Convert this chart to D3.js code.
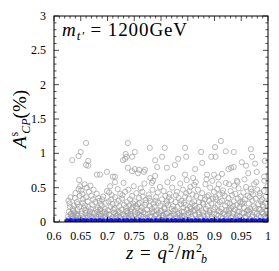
<!DOCTYPE html>
<html>
<head>
<meta charset="utf-8">
<script src="https://cdn.jsdelivr.net/npm/d3@7"></script>
<style>
  body { margin: 0; background: #fff; }
  text { font-family: "Liberation Serif", "DejaVu Serif", serif; }
</style>
</head>
<body>
<div id="chart"></div>
<script>
// axis ticks
const xTicks = [0.6, 0.65, 0.7, 0.75, 0.8, 0.85, 0.9, 0.95, 1];
const xTickLabels = ["0.6", "0.65", "0.7", "0.75", "0.8", "0.85", "0.9", "0.95", "1"];
const yTicks = [0, 0.5, 1, 1.5, 2, 2.5, 3];
const yTickLabels = ["0", "0.5", "1", "1.5", "2", "2.5", "3"];

// sparse upper scan points [z, A_CP]
const upperPts = [
  [0.660,1.15],[0.650,1.02],[0.646,0.96],[0.634,0.90],[0.664,0.89],[0.660,0.83],[0.664,0.82],[0.680,0.69],[0.686,0.69],[0.699,0.73],[0.647,0.61],
  [0.738,1.15],[0.779,1.08],[0.751,1.02],[0.746,0.95],[0.733,0.92],[0.789,0.90],[0.802,0.95],[0.738,0.79],[0.751,0.77],[0.759,0.76],[0.768,0.73],[0.793,0.80],[0.789,0.67],[0.714,0.66],
  [0.710,0.66],[0.714,0.58],[0.746,0.74],[0.757,0.71],[0.770,0.76],[0.780,0.64],[0.783,0.57],[0.734,0.99],[0.736,0.95],[0.729,0.90],
  [0.807,1.08],[0.845,1.08],[0.875,1.02],[0.901,1.09],[0.847,0.95],[0.832,0.92],[0.894,0.95],[0.826,0.83],[0.811,0.79],[0.877,0.86],[0.864,0.77],[0.845,0.69],[0.886,0.69],[0.899,0.69],[0.862,0.54],
  [0.912,1.18],[0.968,1.06],[0.936,1.02],[0.921,1.03],[0.902,0.95],[0.970,0.95],[0.994,0.89],[0.951,0.87],[0.959,0.82],[0.976,0.85],[0.931,0.79],[0.936,0.80],[0.926,0.77],[0.914,0.70],[0.963,0.71],[0.979,0.73],[0.993,0.66],[0.908,0.55],[0.927,0.55],[0.942,0.60],[0.968,0.48]
];

// dense lower scan points [z, A_CP]
const lowerPts = [
  [0.626,0.08],[0.628,0.15],[0.630,0.22],[0.627,0.31],[0.632,0.12],[0.634,0.05],[0.635,0.19],[0.629,0.27],[0.636,0.10],[0.631,0.36],[0.633,0.07],[0.637,0.24],
  [0.638,0.14],[0.640,0.42],[0.641,0.06],[0.643,0.29],[0.644,0.18],[0.646,0.48],[0.639,0.35],[0.645,0.09],[0.647,0.22],[0.648,0.38],[0.642,0.12],[0.649,0.52],[0.644,0.26],
  [0.651,0.46],[0.652,0.16],[0.654,0.33],[0.655,0.07],[0.657,0.55],[0.658,0.24],[0.653,0.41],[0.659,0.13],[0.660,0.36],[0.656,0.20],[0.661,0.50],[0.662,0.09],[0.654,0.28],
  [0.663,0.30],[0.665,0.44],[0.666,0.11],[0.668,0.53],[0.669,0.19],[0.670,0.38],[0.671,0.06],[0.672,0.25],[0.674,0.47],[0.667,0.15],[0.673,0.33],[0.664,0.22],
  [0.676,0.13],[0.677,0.29],[0.679,0.08],[0.680,0.41],[0.682,0.21],[0.683,0.35],[0.684,0.11],[0.686,0.18],[0.687,0.26],[0.678,0.05],[0.681,0.15],[0.685,0.31],
  [0.688,0.09],[0.689,0.23],[0.691,0.14],[0.692,0.37],[0.694,0.06],[0.695,0.19],[0.697,0.28],[0.698,0.12],[0.699,0.45],[0.690,0.33],[0.696,0.08],
  [0.701,0.17],[0.702,0.30],[0.704,0.10],[0.705,0.52],[0.706,0.22],[0.708,0.39],[0.709,0.07],[0.710,0.26],[0.712,0.14],[0.703,0.43],[0.707,0.33],
  [0.713,0.20],[0.714,0.36],[0.716,0.09],[0.717,0.27],[0.719,0.48],[0.720,0.15],[0.721,0.31],[0.723,0.06],[0.724,0.41],[0.715,0.12],[0.722,0.23],
  [0.726,0.18],[0.727,0.34],[0.729,0.11],[0.730,0.57],[0.731,0.25],[0.733,0.44],[0.734,0.08],[0.736,0.29],[0.737,0.16],[0.728,0.39],[0.735,0.21],[0.732,0.05],
  [0.738,0.13],[0.739,0.47],[0.741,0.24],[0.742,0.33],[0.744,0.09],[0.745,0.19],[0.746,0.38],[0.748,0.27],[0.749,0.52],[0.740,0.06],[0.743,0.15],[0.747,0.22],
  [0.751,0.30],[0.752,0.11],[0.754,0.42],[0.755,0.20],[0.757,0.26],[0.758,0.07],[0.759,0.35],[0.761,0.16],[0.762,0.49],[0.753,0.23],[0.756,0.13],[0.760,0.28],
  [0.763,0.09],[0.764,0.21],[0.766,0.37],[0.767,0.14],[0.769,0.56],[0.770,0.25],[0.771,0.32],[0.773,0.06],[0.774,0.18],[0.765,0.44],[0.772,0.28],
  [0.776,0.12],[0.777,0.40],[0.779,0.23],[0.780,0.31],[0.782,0.08],[0.783,0.19],[0.784,0.47],[0.786,0.27],[0.787,0.15],[0.778,0.35],[0.785,0.60],
  [0.788,0.22],[0.789,0.10],[0.791,0.36],[0.792,0.17],[0.794,0.43],[0.795,0.28],[0.797,0.07],[0.798,0.51],[0.799,0.24],[0.790,0.31],[0.796,0.13],
  [0.801,0.16],[0.802,0.33],[0.804,0.09],[0.805,0.45],[0.806,0.21],[0.808,0.38],[0.809,0.12],[0.810,0.27],[0.812,0.58],[0.803,0.06],[0.807,0.19],[0.811,0.30],
  [0.813,0.25],[0.814,0.14],[0.816,0.41],[0.817,0.08],[0.819,0.32],[0.820,0.19],[0.821,0.50],[0.823,0.23],[0.824,0.11],[0.815,0.36],[0.822,0.64],
  [0.826,0.18],[0.827,0.29],[0.829,0.07],[0.830,0.44],[0.831,0.22],[0.833,0.35],[0.834,0.13],[0.836,0.56],[0.837,0.26],[0.828,0.39],[0.835,0.10],
  [0.838,0.31],[0.839,0.15],[0.841,0.47],[0.842,0.21],[0.844,0.09],[0.845,0.37],[0.846,0.25],[0.848,0.61],[0.849,0.18],[0.840,0.06],[0.843,0.28],[0.847,0.42],
  [0.851,0.13],[0.852,0.34],[0.854,0.22],[0.855,0.51],[0.857,0.08],[0.858,0.27],[0.859,0.40],[0.861,0.16],[0.862,0.30],[0.853,0.45],[0.856,0.19],[0.860,0.64],
  [0.863,0.24],[0.864,0.11],[0.866,0.38],[0.867,0.20],[0.869,0.47],[0.870,0.14],[0.871,0.29],[0.873,0.07],[0.874,0.35],[0.865,0.58],[0.872,0.22],
  [0.876,0.17],[0.877,0.42],[0.879,0.26],[0.880,0.09],[0.882,0.33],[0.883,0.55],[0.884,0.19],[0.886,0.37],[0.887,0.12],[0.878,0.28],[0.885,0.62],
  [0.888,0.23],[0.889,0.39],[0.891,0.14],[0.892,0.50],[0.894,0.27],[0.895,0.08],[0.897,0.34],[0.898,0.18],[0.899,0.44],[0.890,0.31],[0.896,0.60],
  [0.901,0.21],[0.902,0.36],[0.904,0.11],[0.905,0.48],[0.906,0.25],[0.908,0.16],[0.909,0.40],[0.910,0.29],[0.912,0.07],[0.903,0.33],[0.907,0.65],
  [0.913,0.19],[0.914,0.31],[0.916,0.46],[0.917,0.13],[0.919,0.38],[0.920,0.24],[0.921,0.57],[0.923,0.09],[0.924,0.28],[0.915,0.42],[0.922,0.17],
  [0.926,0.35],[0.927,0.12],[0.929,0.27],[0.930,0.45],[0.931,0.20],[0.933,0.39],[0.934,0.08],[0.936,0.30],[0.937,0.53],[0.928,0.16],[0.935,0.23],
  [0.938,0.18],[0.939,0.41],[0.941,0.25],[0.942,0.10],[0.944,0.34],[0.945,0.49],[0.946,0.15],[0.948,0.29],[0.949,0.37],[0.940,0.06],[0.947,0.22],[0.943,0.58],
  [0.951,0.26],[0.952,0.13],[0.954,0.43],[0.955,0.21],[0.957,0.33],[0.958,0.08],[0.959,0.51],[0.961,0.17],[0.962,0.38],[0.953,0.29],[0.956,0.62],
  [0.963,0.11],[0.964,0.27],[0.966,0.36],[0.967,0.19],[0.969,0.44],[0.970,0.07],[0.971,0.31],[0.973,0.23],[0.974,0.55],[0.965,0.15],[0.972,0.40],
  [0.976,0.20],[0.977,0.34],[0.979,0.12],[0.980,0.47],[0.982,0.26],[0.983,0.09],[0.984,0.38],[0.986,0.18],[0.987,0.30],[0.978,0.58],[0.985,0.42],
  [0.988,0.14],[0.989,0.33],[0.991,0.22],[0.992,0.45],[0.994,0.08],[0.995,0.28],[0.996,0.37],[0.997,0.18],[0.999,0.52],[0.990,0.25],[0.998,0.11],[0.993,0.60]
];

// extra points crowding the bottom of the band [z, A_CP]
const floorPts = [
  [0.627,0.04],[0.631,0.11],[0.636,0.16],[0.640,0.03],[0.643,0.10],[0.648,0.05],[0.652,0.12],[0.656,0.04],[0.659,0.17],[0.663,0.06],
  [0.667,0.09],[0.671,0.14],[0.675,0.04],[0.679,0.18],[0.683,0.07],[0.687,0.12],[0.691,0.04],[0.695,0.15],[0.699,0.05],[0.703,0.11],
  [0.707,0.04],[0.711,0.18],[0.715,0.06],[0.719,0.10],[0.723,0.14],[0.727,0.04],[0.731,0.09],[0.735,0.16],[0.739,0.04],[0.743,0.11],
  [0.747,0.06],[0.751,0.15],[0.755,0.04],[0.759,0.10],[0.763,0.17],[0.767,0.05],[0.771,0.12],[0.775,0.04],[0.779,0.08],[0.783,0.14],
  [0.787,0.05],[0.791,0.11],[0.795,0.04],[0.799,0.16],[0.803,0.10],[0.807,0.04],[0.811,0.13],[0.815,0.06],[0.819,0.09],[0.823,0.16],
  [0.827,0.04],[0.831,0.12],[0.835,0.05],[0.839,0.09],[0.843,0.15],[0.847,0.04],[0.851,0.10],[0.855,0.14],[0.859,0.05],[0.863,0.17],
  [0.867,0.04],[0.871,0.11],[0.875,0.06],[0.879,0.14],[0.883,0.04],[0.887,0.09],[0.891,0.17],[0.895,0.05],[0.899,0.12],[0.903,0.04],
  [0.907,0.09],[0.911,0.15],[0.915,0.05],[0.919,0.11],[0.923,0.04],[0.927,0.18],[0.931,0.07],[0.935,0.12],[0.939,0.04],[0.943,0.15],
  [0.947,0.08],[0.951,0.04],[0.955,0.13],[0.959,0.06],[0.963,0.17],[0.967,0.04],[0.971,0.10],[0.975,0.14],[0.979,0.05],[0.983,0.19],
  [0.987,0.07],[0.991,0.12],[0.995,0.04],[0.998,0.16]
];

// blue band (standard-model-like points) [z, A_CP]
const bluePts = [
  [0.625,0.020],[0.632,0.022],[0.640,0.018],[0.647,0.021],[0.655,0.023],[0.662,0.019],[0.670,0.022],[0.677,0.020],[0.685,0.024],[0.692,0.019],
  [0.700,0.021],[0.707,0.023],[0.715,0.018],[0.722,0.022],[0.730,0.020],[0.737,0.024],[0.745,0.019],[0.752,0.021],[0.760,0.023],[0.767,0.018],
  [0.775,0.022],[0.782,0.020],[0.790,0.024],[0.797,0.019],[0.805,0.021],[0.812,0.023],[0.820,0.018],[0.827,0.022],[0.835,0.020],[0.842,0.024],
  [0.850,0.019],[0.857,0.021],[0.865,0.023],[0.872,0.018],[0.880,0.022],[0.887,0.020],[0.895,0.024],[0.902,0.019],[0.910,0.021],[0.917,0.023],
  [0.925,0.018],[0.932,0.022],[0.940,0.020],[0.947,0.024],[0.955,0.019],[0.962,0.021],[0.970,0.023],[0.977,0.018],[0.985,0.022],[0.992,0.020],[0.999,0.021]
];

const margin = { top: 16, right: 11, bottom: 49, left: 54 },
      width = 279 - margin.left - margin.right,
      height = 271 - margin.top - margin.bottom;

const svg = d3.select("#chart")
  .append("svg")
  .attr("width", 279)
  .attr("height", 271);

const g = svg.append("g")
  .attr("transform", `translate(${margin.left},${margin.top})`);

const x = d3.scaleLinear().domain([0.6, 1]).range([0, width]);
const y = d3.scaleLinear().domain([0, 3]).range([height, 0]);

// clip so points stay inside the frame
g.append("clipPath").attr("id", "clip")
  .append("rect").attr("width", width).attr("height", height);

const pts = g.append("g").attr("clip-path", "url(#clip)");

// gray scan points
pts.selectAll("circle.scan")
  .data(floorPts.concat(lowerPts, upperPts))
  .join("circle")
  .attr("class", "scan")
  .attr("cx", d => x(d[0]))
  .attr("cy", d => y(d[1]))
  .attr("r", 2.6)
  .attr("fill", "none")
  .attr("stroke", "#9c9c9c")
  .attr("stroke-width", 0.7);

// blue band
pts.selectAll("circle.blue")
  .data(bluePts)
  .join("circle")
  .attr("class", "blue")
  .attr("cx", d => x(d[0]))
  .attr("cy", d => y(d[1]))
  .attr("r", 2.4)
  .attr("fill", "#1a1ae6");

// ticks, mirrored on all four sides
const xMinor = d3.range(60, 101).map(v => v / 100);
const yMinor = d3.range(0, 31).map(v => v / 10);

function tickLen(v, step) { return Math.abs(v / step - Math.round(v / step)) < 1e-6 ? 5 : 2.5; }

const tk = g.append("g").attr("stroke", "#000").attr("stroke-width", 0.7);
xMinor.forEach(v => {
  const L = tickLen(v, 0.05);
  tk.append("line").attr("x1", x(v)).attr("x2", x(v)).attr("y1", height).attr("y2", height - L);
  tk.append("line").attr("x1", x(v)).attr("x2", x(v)).attr("y1", 0).attr("y2", L);
});
yMinor.forEach(v => {
  const L = tickLen(v, 0.5);
  tk.append("line").attr("x1", 0).attr("x2", L).attr("y1", y(v)).attr("y2", y(v));
  tk.append("line").attr("x1", width).attr("x2", width - L).attr("y1", y(v)).attr("y2", y(v));
});

// frame
g.append("rect")
  .attr("width", width).attr("height", height)
  .attr("fill", "none").attr("stroke", "#000").attr("stroke-width", 1);

// tick labels
g.selectAll("text.xt")
  .data(xTicks)
  .join("text")
  .attr("class", "xt")
  .attr("x", d => x(d))
  .attr("y", height + 18)
  .attr("text-anchor", "middle")
  .style("font-size", "12px")
  .text((d, i) => xTickLabels[i]);

g.selectAll("text.yt")
  .data(yTicks)
  .join("text")
  .attr("class", "yt")
  .attr("x", -8)
  .attr("y", d => y(d) + 4)
  .attr("text-anchor", "end")
  .style("font-size", "12px")
  .text((d, i) => yTickLabels[i]);

// title inside the plot
const title = g.append("text")
  .attr("x", 8)
  .attr("y", 20)
  .style("font-size", "19px")
  .style("letter-spacing", "0.9px");
title.append("tspan").style("font-style", "italic").text("m");
title.append("tspan").attr("dy", 4).style("font-size", "13px").style("font-style", "italic").text("t\u2032");
title.append("tspan").attr("dy", -4).text(" = 1200GeV");

// x axis title
const xt = svg.append("text")
  .attr("x", margin.left + width / 2 + 6)
  .attr("y", 259)
  .attr("text-anchor", "middle")
  .style("font-size", "19px")
  .style("letter-spacing", "1px");
xt.append("tspan").style("font-style", "italic").text("z");
xt.append("tspan").text(" = ");
xt.append("tspan").style("font-style", "italic").text("q");
xt.append("tspan").attr("dy", -7).style("font-size", "12px").text("2");
xt.append("tspan").attr("dy", 7).text("/");
xt.append("tspan").style("font-style", "italic").text("m");
xt.append("tspan").attr("dy", -7).style("font-size", "12px").text("2");
xt.append("tspan").attr("dx", -2).attr("dy", 11).style("font-size", "12px").style("font-style", "italic").text("b");

// y axis title
const yt = svg.append("text")
  .attr("transform", `translate(26,${margin.top + 103}) rotate(-90)`)
  .attr("text-anchor", "middle")
  .style("font-size", "19px");
yt.append("tspan").style("font-style", "italic").text("A");
yt.append("tspan").attr("dy", -8).style("font-size", "12px").text("s");
yt.append("tspan").attr("dx", -2).attr("dy", 12).style("font-size", "12px").style("font-style", "italic").text("CP");
yt.append("tspan").attr("dy", -4).text("(%)");
</script>
</body>
</html>
